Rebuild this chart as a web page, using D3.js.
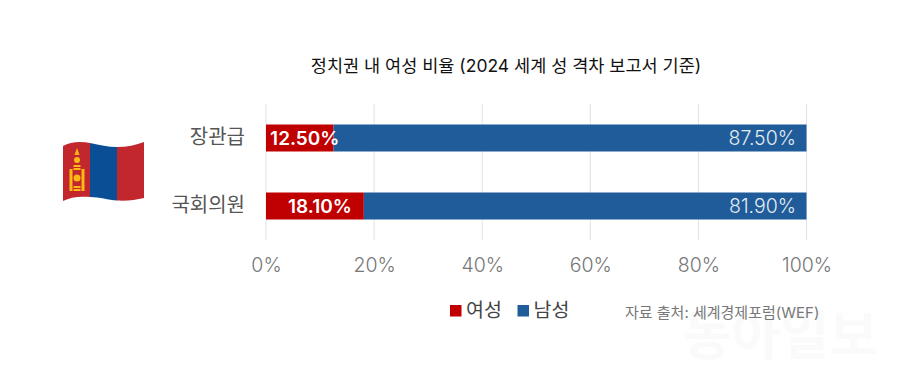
<!DOCTYPE html>
<html>
<head>
<meta charset="utf-8">
<script src="https://cdn.jsdelivr.net/npm/d3@7"></script>
<style>
  html, body { margin: 0; padding: 0; background: #fff; }
  svg text { font-family: Inter, "Noto Sans CJK KR", sans-serif; }
</style>
</head>
<body>
<div id="chart"></div>
<script>
// Data
const categories = ["장관급", "국회의원"];
const seriesNames = ["여성", "남성"];
const women = [12.5, 18.1];
const men = [87.5, 81.9];
const ticks = [0, 20, 40, 60, 80, 100];
const seriesColors = ["#c00000", "#1f5c99"];

const width = 900, height = 368;

const svg = d3.select("#chart").append("svg")
  .attr("width", width)
  .attr("height", height)
  .style("display", "block");

// Scales
const x = d3.scaleLinear().domain([0, 100]).range([266, 806.5]);
const y = d3.scaleBand().domain(categories).range([104, 240]).paddingInner(0.5).paddingOuter(0.25);
const barHeight = 27;
const barY = d => y(d) + y.bandwidth() / 2 - barHeight / 2;

// Watermark
svg.append("text")
  .attr("x", 683).attr("y", 355)
  .attr("font-size", 53).attr("font-weight", 700)
  .attr("fill", "#fafafa")
  .text("동아일보");

// Title
svg.append("text")
  .attr("x", 506).attr("y", 72)
  .attr("text-anchor", "middle")
  .attr("font-size", 17.5)
  .attr("fill", "#111")
  .text("정치권 내 여성 비율 (2024 세계 성 격차 보고서 기준)");

// Gridlines
svg.append("g").selectAll("line")
  .data(ticks)
  .join("line")
    .attr("x1", d => x(d)).attr("x2", d => x(d))
    .attr("y1", 104).attr("y2", 240)
    .attr("stroke", "#e2e2e2");

// Bars
const rows = categories.map((c, i) => ({cat: c, w: women[i], m: men[i]}));

svg.append("g").selectAll("rect")
  .data(rows)
  .join("rect")
    .attr("x", d => x(0)).attr("y", d => barY(d.cat))
    .attr("width", d => x(d.w) - x(0)).attr("height", barHeight)
    .attr("fill", seriesColors[0]);

svg.append("g").selectAll("rect")
  .data(rows)
  .join("rect")
    .attr("x", d => x(d.w)).attr("y", d => barY(d.cat))
    .attr("width", d => x(d.w + d.m) - x(d.w)).attr("height", barHeight)
    .attr("fill", seriesColors[1]);

// Value labels
svg.append("g").selectAll("text")
  .data(rows)
  .join("text")
    .attr("x", d => (x(d.w) + x(0)) / 2 + 5)
    .attr("y", d => barY(d.cat) + barHeight / 2)
    .attr("dy", "0.36em")
    .attr("text-anchor", "middle")
    .attr("font-size", 19).attr("font-weight", 600)
    .attr("fill", "#fff")
    .text(d => d.w.toFixed(2) + "%");

svg.append("g").selectAll("text")
  .data(rows)
  .join("text")
    .attr("x", x(100) - 10.5)
    .attr("y", d => barY(d.cat) + barHeight / 2)
    .attr("dy", "0.36em")
    .attr("text-anchor", "end")
    .attr("font-size", 19.5).attr("font-weight", 300)
    .attr("fill", "#e3ebf3")
    .text(d => d.m.toFixed(2) + "%");

// Category labels
svg.append("g").selectAll("text")
  .data(categories)
  .join("text")
    .attr("x", 245)
    .attr("y", d => barY(d) + barHeight / 2 - 1)
    .attr("dy", "0.36em")
    .attr("text-anchor", "end")
    .attr("font-size", 20)
    .attr("fill", "#555")
    .text(d => d);

// X axis
const xAxis = svg.append("g")
  .attr("transform", "translate(0,240)")
  .call(d3.axisBottom(x).tickValues(ticks).tickFormat(d => d + "%").tickSize(0).tickPadding(18));
xAxis.select(".domain").remove();
xAxis.selectAll("text")
  .style("font-family", "Inter, sans-serif")
  .style("font-size", "19.5px")
  .style("font-weight", 300)
  .attr("fill", "#777");

// Legend
const legendSwatch = [450, 517.5];
const legend = svg.append("g").selectAll("g")
  .data(seriesNames)
  .join("g")
    .attr("transform", (d, i) => `translate(${legendSwatch[i]},305)`);
legend.append("rect")
  .attr("width", 11.5).attr("height", 11.5)
  .attr("fill", (d, i) => seriesColors[i]);
legend.append("text")
  .attr("x", 16).attr("y", 5)
  .attr("dy", "0.36em")
  .attr("font-size", 19.5)
  .attr("fill", "#444")
  .text(d => d);

// Source
svg.append("text")
  .attr("x", 625).attr("y", 318)
  .attr("font-size", 15)
  .attr("fill", "#777")
  .text("자료 출처: 세계경제포럼(WEF)");

// Flag of Mongolia
const flagShape = "M63,146 C70,142 80,141 90,143 C100,145 108,147 117,147 C127,147 136,145 144,142 " +
  "L144,198 C136,200 127,201 117,200.5 C108,200 100,197 90,197 C80,196 70,197 63,201 Z";
svg.append("clipPath").attr("id", "flag-clip").append("path").attr("d", flagShape);
const flag = svg.append("g").attr("clip-path", "url(#flag-clip)");
flag.append("rect").attr("x", 63).attr("y", 140).attr("width", 27).attr("height", 62).attr("fill", "#c1272d");
flag.append("rect").attr("x", 90).attr("y", 140).attr("width", 27).attr("height", 62).attr("fill", "#0a4f96");
flag.append("rect").attr("x", 117).attr("y", 140).attr("width", 27).attr("height", 62).attr("fill", "#c1272d");
// Soyombo emblem
const emblem = flag.append("g").attr("fill", "#fcb814");
emblem.append("path").attr("d", "M77,148 L79.5,155 L74.5,155 Z");
emblem.append("circle").attr("cx", 77).attr("cy", 160).attr("r", 3);
emblem.append("rect").attr("x", 69.5).attr("y", 169).attr("width", 3).attr("height", 22);
emblem.append("rect").attr("x", 81.5).attr("y", 169).attr("width", 3).attr("height", 22);
emblem.append("rect").attr("x", 73.5).attr("y", 165).attr("width", 7).attr("height", 2);
emblem.append("rect").attr("x", 73.5).attr("y", 168).attr("width", 7).attr("height", 2);
emblem.append("circle").attr("cx", 77).attr("cy", 178).attr("r", 3.5);
emblem.append("rect").attr("x", 73.5).attr("y", 186).attr("width", 7).attr("height", 2);
emblem.append("rect").attr("x", 73.5).attr("y", 189).attr("width", 7).attr("height", 2);
</script>
</body>
</html>
